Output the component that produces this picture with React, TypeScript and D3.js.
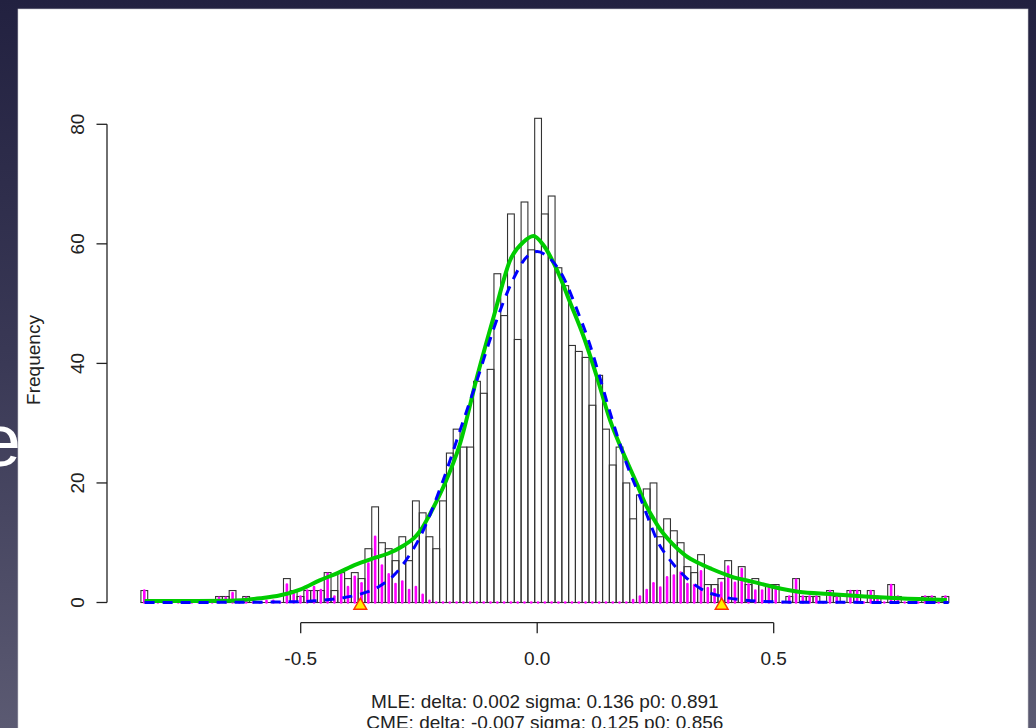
import React from "react";
import * as d3 from "d3";

// histogram breaks (equal-width bins)
const binStart = -0.8378;
const binWidth = 0.014353;

// observed counts per bin, left to right
const counts = [
  2, 0, 0, 0, 0, 0, 0, 0, 0, 0, 0, 1, 1, 2, 0, 1, 0, 0, 0, 0, 0,
  4, 2, 1, 2, 2, 2, 5, 2, 5, 4, 5, 4, 9, 16, 10, 9, 7, 11, 7, 17, 15, 11, 9,
  17, 25, 29, 26, 26, 37, 35, 39, 55, 48, 65, 44, 67, 59,
  81, 65, 68, 56, 53, 43, 42, 41, 33, 38, 29, 23, 26, 20,
  14, 18, 19, 20, 11, 14, 12, 10, 6, 5, 8, 3, 3, 4, 7, 4, 6, 3, 4, 3, 3,
  3, 0, 1, 4, 1, 1, 1, 0, 2, 1, 0, 2, 2, 0, 2, 1, 0, 3, 1, 0, 0, 0, 1, 1, 0, 1,
];

// magenta (non-null) heights per bin
const altCounts = [
  2, 0, 0, 0, 0, 0, 0, 0, 0, 0, 0, 0.8, 0.8, 1.6, 0, 0.8, 0, 0, 0.3, 0.3, 0,
  3, 1.5, 1, 2, 2.6, 2.1, 4.8, 1, 4.8, 2.6, 4.3, 3.2, 6.5, 11, 6.2, 4.7, 3.1, 3.5, 2.1, 2.6, 1.3, 0.3, 0,
  0, 0, 0, 0, 0, 0, 0, 0, 0, 0, 0, 0, 0, 0,
  0, 0, 0, 0, 0, 0, 0, 0, 0, 0, 0, 0, 0, 0,
  0.4, 1, 2.1, 3.2, 2.5, 4.2, 4.5, 5, 3.1, 2.9, 5.2, 2.4, 2.2, 3.3, 6, 3.3, 5.6, 3, 2, 2, 2.7,
  2.7, 0, 1, 3.8, 1, 1, 1, 0, 1.9, 1, 0, 1.9, 1.9, 0, 1.9, 1, 0, 2.9, 1, 0, 0, 0, 1, 1, 0, 1,
];

// green fitted curve
const greenX = [
  -0.83, -0.75, -0.65, -0.586, -0.543, -0.5, -0.46, -0.42, -0.385, -0.35, -0.315,
  -0.283, -0.26, -0.247, -0.226, -0.198, -0.163, -0.127, -0.092, -0.057, -0.029,
  -0.008, 0.013, 0.042, 0.07, 0.098, 0.126, 0.154, 0.182, 0.211, 0.228, 0.246,
  0.256, 0.285, 0.313, 0.341, 0.369, 0.412, 0.454, 0.5, 0.552, 0.623, 0.693, 0.764, 0.866,
];
const greenY = [
  0.25, 0.25, 0.3, 0.7, 1.2, 2.2, 3.7, 5.0, 6.3, 7.3, 8.2,
  9.5, 10.8, 12.0, 14.9, 19.4, 26.6, 37.8, 47.8, 57.3, 60.3,
  61.3, 59.8, 55.6, 50.1, 44.5, 37.8, 30.5, 25.0, 19.8, 16.6, 14.0,
  12.7, 9.9, 7.9, 6.6, 5.6, 4.3, 3.5, 2.6, 1.8, 1.4, 1.0, 0.7, 0.4,
];

// blue dashed null curve
const blueX = [
  -0.83, -0.6, -0.5, -0.45, -0.41, -0.374, -0.336, -0.3, -0.272, -0.25, -0.2,
  -0.163, -0.128, -0.092, -0.057, -0.02, 0.0, 0.02, 0.056, 0.084, 0.112, 0.133,
  0.154, 0.19, 0.218, 0.235, 0.256, 0.281, 0.313, 0.348, 0.39, 0.433, 0.47, 0.55, 0.87,
];
const blueY = [
  0, 0.05, 0.15, 0.4, 0.8, 1.4, 2.6, 4.8, 7.7, 10.6, 20.2,
  28.8, 37, 45.8, 53, 58, 58.7, 58, 54.3, 49, 43, 37.5,
  31.8, 23, 17.5, 14, 10, 7.1, 4.3, 2.2, 1.0, 0.45, 0.2, 0.05, 0,
];

const markerX = [-0.374, 0.39];
const xTicks = [-0.5, 0, 0.5];
const yTicks = [0, 20, 40, 60, 80];
const subLines = [
  "MLE: delta: 0.002 sigma: 0.136 p0: 0.891",
  "CME: delta: -0.007 sigma: 0.125 p0: 0.856",
];
const yLabel = "Frequency";

const W = 1036;
const H = 728;
const font = "'Liberation Sans', Arial, sans-serif";

export default function App() {
  const x = d3.scaleLinear().domain([-0.5, 0.5]).range([300.7, 773.7]);
  const y = d3.scaleLinear().domain([0, 80]).range([602.5, 124.3]);

  const bins = counts.map((c, i) => ({
    x0: binStart + i * binWidth,
    x1: binStart + (i + 1) * binWidth,
    c,
    alt: altCounts[i],
  }));

  const line = d3
    .line<[number, number]>()
    .x((d) => x(d[0]))
    .y((d) => y(d[1]))
    .curve(d3.curveMonotoneX);

  const greenPath = line(greenX.map((v, i) => [v, greenY[i]]) as [number, number][]);
  const bluePath = line(blueX.map((v, i) => [v, blueY[i]]) as [number, number][]);
  const tri = d3.symbol(d3.symbolTriangle, 70)();

  const axisY = 622.7;
  const plotMid = (x(binStart) + x(binStart + counts.length * binWidth)) / 2;

  return (
    <svg
      width={W}
      height={H}
      style={{ position: "absolute", left: 0, top: 0 }}
      fontFamily={font}
    >
      <defs>
        <linearGradient id="bg" x1="0" y1="0" x2="0" y2="1">
          <stop offset="0" stopColor="#222140" />
          <stop offset="0.5" stopColor="#3a3956" />
          <stop offset="1" stopColor="#5b5a72" />
        </linearGradient>
      </defs>
      <rect width={W} height={H} fill="url(#bg)" />
      <text x={21} y={466} fontSize={75} fill="#ffffff" textAnchor="end">
        e
      </text>
      <rect x={18} y={9} width={1010} height={H} fill="#ffffff" stroke="#c8c8cc" strokeWidth={0.6} />

      {/* histogram */}
      <g stroke="#333" strokeWidth={1.1} fill="none">
        {bins
          .filter((b) => b.c > 0)
          .map((b, i) => (
            <rect
              key={i}
              x={x(b.x0)}
              y={y(b.c)}
              width={x(b.x1) - x(b.x0)}
              height={y(0) - y(b.c)}
            />
          ))}
        <line x1={x(binStart)} x2={x(binStart + counts.length * binWidth)} y1={y(0)} y2={y(0)} />
      </g>

      {/* magenta heights */}
      <g stroke="#ff00ff" strokeWidth={2.6} strokeLinecap="round">
        {bins.map((b, i) => {
          const cx = x((b.x0 + b.x1) / 2);
          return <line key={i} x1={cx} x2={cx} y1={y(0)} y2={y(b.alt)} />;
        })}
      </g>

      <path d={greenPath ?? ""} fill="none" stroke="#00cc00" strokeWidth={4} strokeLinejoin="round" />
      <path d={bluePath ?? ""} fill="none" stroke="#0000ff" strokeWidth={3} strokeDasharray="10 8" />

      {markerX.map((m, i) => (
        <path
          key={i}
          d={tri ?? ""}
          transform={`translate(${x(m)},${y(0) + 3})`}
          fill="#ffee00"
          stroke="#ff3300"
          strokeWidth={1.5}
        />
      ))}

      {/* x axis */}
      <g stroke="#222" strokeWidth={1.3} fill="none">
        <line x1={x(-0.5)} x2={x(0.5)} y1={axisY} y2={axisY} />
        {xTicks.map((t) => (
          <line key={t} x1={x(t)} x2={x(t)} y1={axisY} y2={axisY + 10.5} />
        ))}
      </g>
      {xTicks.map((t) => (
        <text key={t} x={x(t)} y={665} textAnchor="middle" fontSize={19} fill="#222">
          {d3.format(".1f")(t).replace("−", "-")}
        </text>
      ))}

      {/* y axis */}
      <g stroke="#222" strokeWidth={1.3} fill="none">
        <line x1={107} x2={107} y1={y(0)} y2={y(80)} />
        {yTicks.map((t) => (
          <line key={t} x1={107} x2={96.5} y1={y(t)} y2={y(t)} />
        ))}
      </g>
      {yTicks.map((t) => (
        <text
          key={t}
          transform={`translate(84,${y(t)}) rotate(-90)`}
          textAnchor="middle"
          fontSize={19}
          fill="#222"
        >
          {t}
        </text>
      ))}
      <text transform={`translate(40,360) rotate(-90)`} textAnchor="middle" fontSize={19} fill="#222">
        {yLabel}
      </text>

      {subLines.map((s, i) => (
        <text key={i} x={plotMid} y={708 + i * 21} textAnchor="middle" fontSize={19} fill="#222">
          {s}
        </text>
      ))}
    </svg>
  );
}
